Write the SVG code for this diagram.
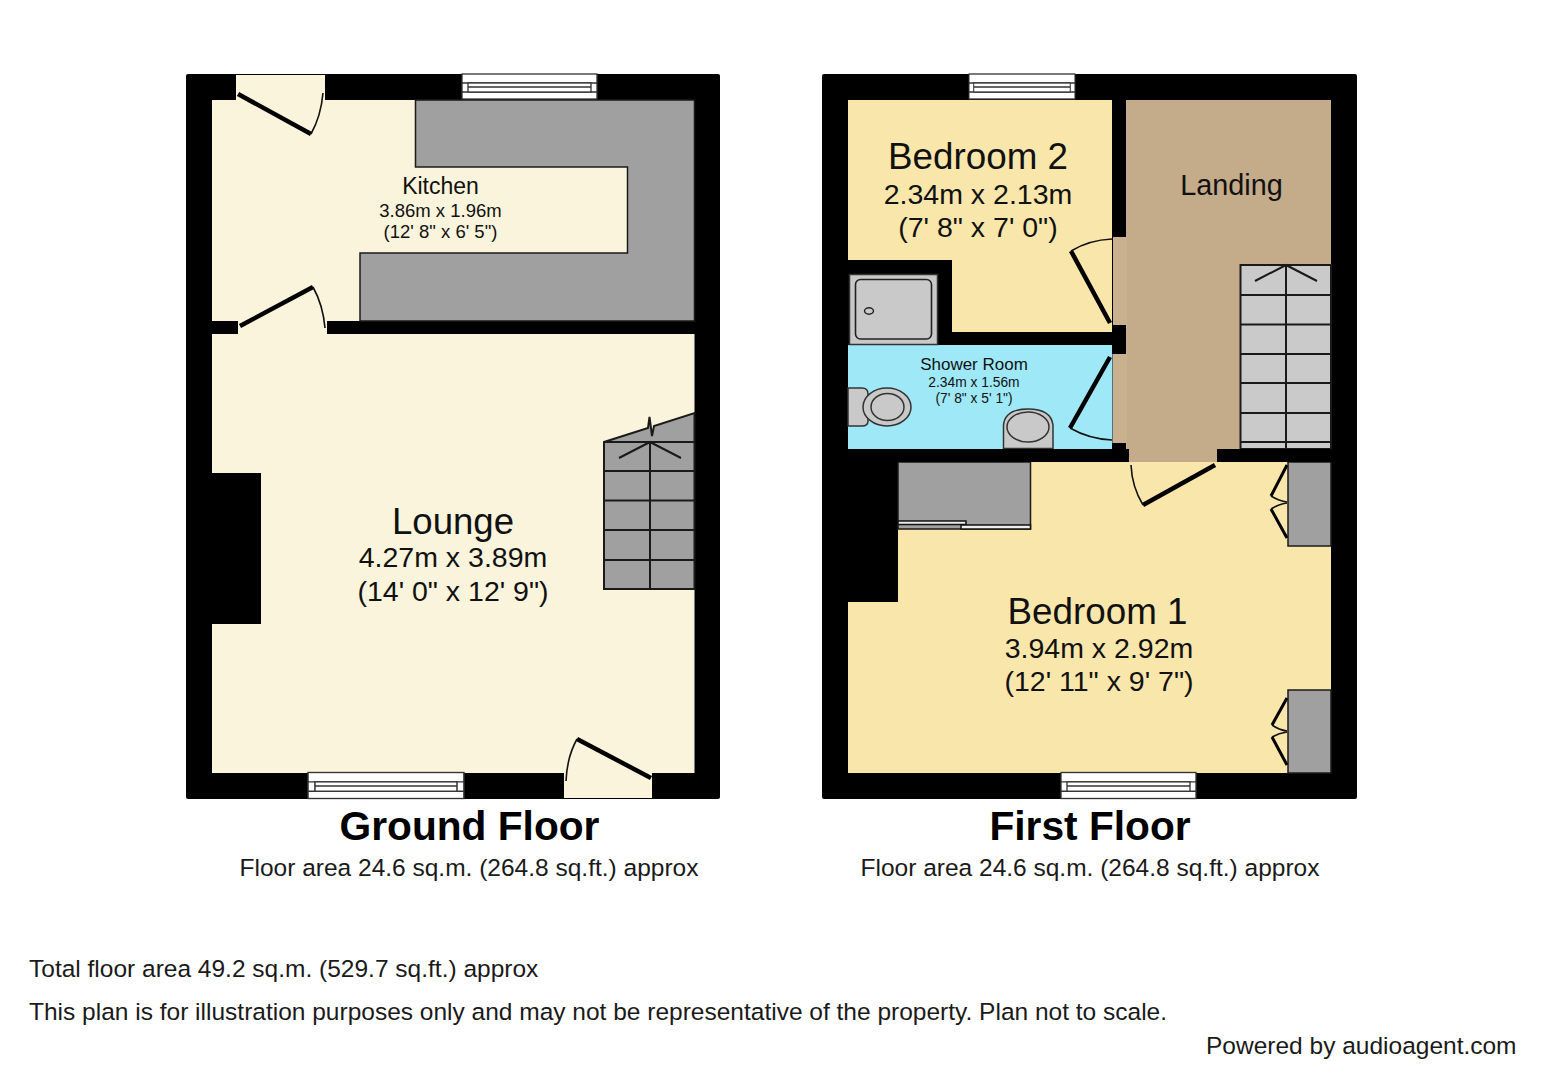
<svg xmlns="http://www.w3.org/2000/svg" width="1542" height="1080" viewBox="0 0 1542 1080">
<style>
text{font-family:"Liberation Sans",Arial,sans-serif;fill:#111;text-anchor:middle}
.l{text-anchor:start;font-size:24.5px;fill:#1a1a1a}
.t{font-size:40.7px;font-weight:bold;fill:#000}
.s{font-size:24.5px;fill:#1a1a1a}
.wall{fill:#000}
.cream{fill:#faf4dc}
.yel{fill:#f9e6ab}
.unit{fill:#a0a0a0;stroke:#1a1a1a;stroke-width:1.5}
.leaf{fill:none;stroke:#000;stroke-width:4.5}
.leaf2{fill:none;stroke:#000;stroke-width:3}
.arc{fill:none;stroke:#111;stroke-width:1.6}
.st{fill:none;stroke:#1a1a1a;stroke-width:2}
.win{fill:#fff;stroke:#333;stroke-width:1.3}
.san{fill:#c9c9c9;stroke:#333;stroke-width:1.5}
</style>
<defs>
<g id="winlines">
<rect class="win" x="0" y="0" width="135" height="25"/>
<path class="win" d="M0 9H135M0 18H135"/>
<rect class="win" x="6" y="9" width="123" height="9"/>
<path class="win" d="M6 13H129"/>
</g>
</defs>
<rect width="1542" height="1080" fill="#fff"/>

<g id="ground-floor">
<rect class="wall" x="186" y="74" width="534" height="725" rx="2"/>
<g id="kitchen">
<rect class="cream" x="212" y="100" width="482.5" height="221"/>
<path class="unit" d="M415.5 100H694.5V321H360V253H627.5V167H415.5Z"/>
<rect class="cream" x="236" y="75" width="89" height="25"/>
</g>
<g id="lounge">
<rect class="cream" x="212" y="334" width="482.5" height="439"/>
<rect class="cream" x="238" y="321" width="89" height="13"/>
<rect class="wall" x="212" y="473" width="49" height="151"/>
<rect class="cream" x="564" y="773" width="88" height="25"/>
</g>
<g id="ground-stairs">
<path class="unit" d="M604 442L648 428L649.5 417L652 436L654 426L694.5 413V589H604Z" style="stroke-width:2"/>
<path class="st" d="M604 442H694.5M604 471H694.5M604 500.5H694.5M604 530H694.5M604 560H694.5M650 442V589"/>
<path class="st" d="M619 458L650 442L681 458"/>
</g>
<g id="ground-doors">
<path class="leaf" d="M238 94L311 134"/><path class="arc" d="M311 134Q321 116 323 93"/>
<path class="leaf" d="M240 326L313 287"/><path class="arc" d="M313 287Q323 305 325 328"/>
<path class="leaf" d="M577 739L651 778"/><path class="arc" d="M577 739Q567 757 566 781"/>
</g>
<use href="#winlines" x="462" y="74"/>
<use href="#winlines" transform="translate(308 772.5) scale(1.155 1.04)"/>
<text x="440.5" y="194" font-size="23">Kitchen</text>
<text x="440.5" y="217" font-size="18.5">3.86m x 1.96m</text>
<text x="440.5" y="238" font-size="18.5">(12' 8" x 6' 5")</text>
<text x="453" y="534" font-size="36.6">Lounge</text>
<text x="453" y="567" font-size="28.5">4.27m x 3.89m</text>
<text x="453" y="601" font-size="28.5">(14' 0" x 12' 9")</text>
<text class="t" x="469.5" y="840">Ground Floor</text>
<text class="s" x="469" y="876">Floor area 24.6 sq.m. (264.8 sq.ft.) approx</text>
</g>

<g id="first-floor">
<rect class="wall" x="822" y="74" width="535" height="725" rx="2"/>
<g id="landing">
<rect x="1126" y="100" width="205" height="362" fill="#c4ab8a"/>
<rect x="1113" y="237" width="14" height="212" fill="#c9b08f"/>
<rect x="1129" y="449" width="88" height="13" fill="#c4ab8a"/>
</g>
<g id="bedroom-2">
<rect class="yel" x="848" y="100" width="264" height="160"/>
<rect class="yel" x="952" y="260" width="160" height="72"/>
</g>
<g id="shower-room">
<rect x="848" y="345" width="264.5" height="104" fill="#9ee8f8"/>
<rect class="san" x="849.5" y="274.5" width="88" height="70"/>
<rect x="855.5" y="279.5" width="76" height="59.5" rx="5" fill="#c9c9c9" stroke="#222" stroke-width="1.6"/>
<ellipse cx="869" cy="311" rx="4.5" ry="3.2" fill="#c9c9c9" stroke="#222" stroke-width="1.4"/>
<path class="san" d="M848 388H862Q868 388 868 394V421Q868 426 862 426H848Z"/>
<ellipse class="san" cx="887" cy="407" rx="24" ry="19"/>
<ellipse class="san" cx="887.5" cy="407" rx="16.5" ry="13.5"/>
<path class="san" d="M1003.5 448.5V425Q1005 409 1028 409Q1051 409 1053 425V448.5Z"/>
<ellipse class="san" cx="1028" cy="427" rx="21" ry="15"/>
<rect class="wall" x="1112" y="443" width="14" height="7"/>
</g>
<g id="bedroom-1">
<path class="yel" d="M898 462H1331V773H848V602H898Z"/>
<rect class="wall" x="1112" y="325" width="14" height="29"/>
<rect class="unit" x="898" y="462" width="132.5" height="67"/>
<rect x="898" y="521" width="68" height="3.5" fill="#eee" stroke="#111" stroke-width="1.5"/>
<rect x="961" y="525" width="69.5" height="4" fill="#eee" stroke="#111" stroke-width="1.5"/>
<rect class="unit" x="1288" y="462" width="43" height="84"/>
<rect class="unit" x="1288" y="690" width="43" height="83"/>
<path class="leaf2" d="M1287 465L1271 496M1271 509L1287 538M1287 698L1272 725M1272 737L1287 765"/>
<path class="arc" d="M1271 496Q1279 501 1287 502M1271 509Q1279 504 1287 503M1272 725Q1279 730 1287 731M1272 737Q1279 733 1287 732"/>
</g>
<g id="first-stairs">
<rect x="1240.5" y="265" width="90.5" height="184" fill="#cacaca" stroke="#1a1a1a" stroke-width="2"/>
<path class="st" d="M1240.5 295H1331M1240.5 324.5H1331M1240.5 354H1331M1240.5 383H1331M1240.5 413H1331M1240.5 442H1331M1286 265V449"/>
<path class="st" d="M1255 281L1286 265L1317 281"/>
</g>
<rect class="wall" x="1112" y="100" width="14" height="137"/>
<rect class="wall" x="848" y="449" width="281" height="13"/>
<rect class="wall" x="1217" y="449" width="114" height="13"/>
<g id="first-doors">
<path class="leaf" d="M1110 323L1071 251"/><path class="arc" d="M1071 251Q1089 240 1112 239"/>
<path class="leaf" d="M1110 357L1070 428"/><path class="arc" d="M1070 428Q1089 439 1112 440"/>
<path class="leaf" d="M1215 465L1143 505"/><path class="arc" d="M1143 505Q1132 487 1131 465"/>
</g>
<use href="#winlines" transform="translate(969 74) scale(0.785 1)"/>
<use href="#winlines" transform="translate(1061 772.5) scale(1 1.04)"/>
<text x="978" y="169" font-size="36.8">Bedroom 2</text>
<text x="978" y="204" font-size="28.5">2.34m x 2.13m</text>
<text x="978" y="237" font-size="28.5">(7' 8" x 7' 0")</text>
<text x="1231.5" y="195" font-size="28.8">Landing</text>
<text x="974" y="370" font-size="17">Shower Room</text>
<text x="974" y="387" font-size="13.8">2.34m x 1.56m</text>
<text x="974" y="403" font-size="13.8">(7' 8" x 5' 1")</text>
<text x="1097.5" y="624" font-size="36.8">Bedroom 1</text>
<text x="1099" y="658" font-size="28.5">3.94m x 2.92m</text>
<text x="1099" y="691" font-size="28.5">(12' 11" x 9' 7")</text>
<text class="t" x="1090" y="840">First Floor</text>
<text class="s" x="1090" y="876">Floor area 24.6 sq.m. (264.8 sq.ft.) approx</text>
</g>

<g id="notes">
<text class="l" x="29" y="977">Total floor area 49.2 sq.m. (529.7 sq.ft.) approx</text>
<text class="l" x="29" y="1020">This plan is for illustration purposes only and may not be representative of the property. Plan not to scale.</text>
<text class="l" x="1206" y="1054">Powered by audioagent.com</text>
</g>
</svg>
